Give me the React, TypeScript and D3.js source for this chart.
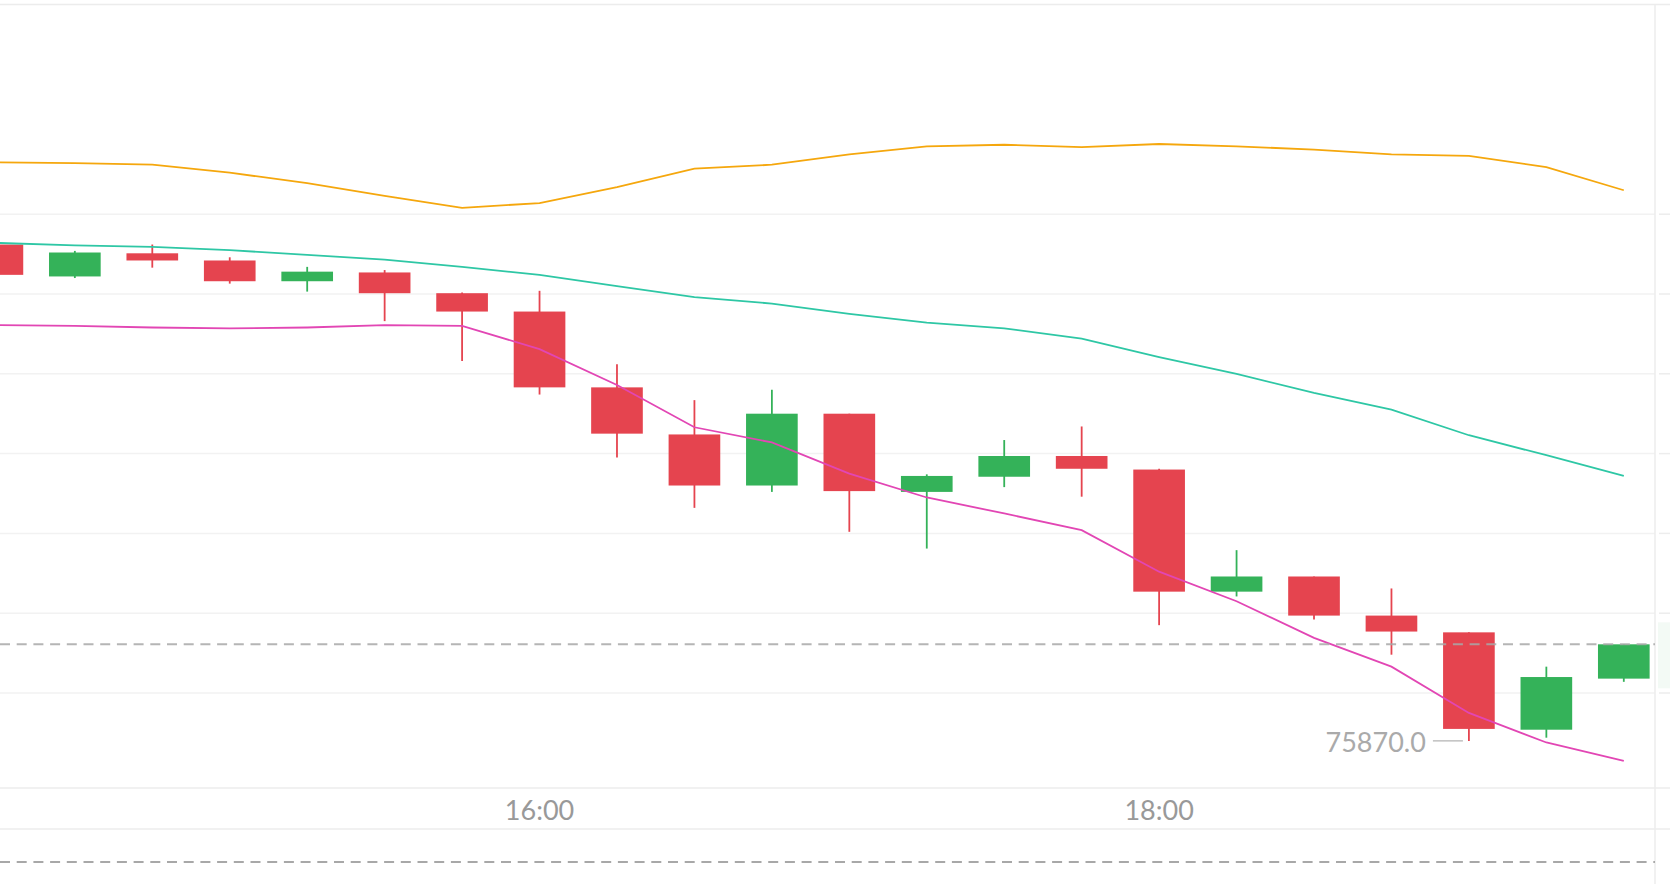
import React from "react";
import * as d3 from "d3";

const times = ["14:15","14:30","14:45","15:00","15:15","15:30","15:45","16:00","16:15","16:30","16:45","17:00","17:15","17:30","17:45","18:00","18:15","18:30","18:45","19:00","19:15","19:30"];
const opens = [76181, 76161, 76175.5, 76171, 76158, 76163.5, 76150.5, 76139, 76091.5, 76062, 76030, 76075, 76026, 76035.5, 76048.5, 76040, 75963.5, 75973, 75948.5, 75938, 75877, 75909];
const highs = [76181.5, 76177, 76181, 76173, 76167, 76165, 76151, 76152, 76106, 76083.5, 76090, 76075, 76037, 76058.5, 76067, 76040.5, 75989.5, 75973, 75965.5, 75938, 75916.5, 75930.5];
const lows = [76161, 76160, 76166.5, 76156.5, 76151.5, 76133, 76108, 76087, 76047.5, 76016, 76026, 76001, 75990.5, 76029, 76023, 75942.5, 75960.5, 75946, 75924, 75870, 75872, 75907];
const closes = [76162, 76176, 76171, 76158, 76164, 76150.5, 76139, 76091.5, 76062.5, 76030, 76075, 76026.5, 76036, 76048.5, 76040.5, 75963.5, 75973, 75948.5, 75938.5, 75877.5, 75910, 75930.5];
const upperBand = [76232.5, 76232, 76231, 76226, 76219.5, 76211.5, 76204, 76207, 76217, 76228.5, 76231, 76237.5, 76242.5, 76243.5, 76242, 76244, 76242.5, 76240.5, 76237.5, 76236.5, 76229.5, 76215];
const midBand = [76182, 76180.5, 76179.5, 76177.5, 76174.5, 76171.5, 76167, 76162, 76155, 76148, 76144, 76137.5, 76132, 76128.5, 76122, 76110.5, 76100, 76088, 76077.5, 76061.5, 76049, 76036];
const maLine = [76130.5, 76130, 76129, 76128.5, 76129, 76130.5, 76130, 76115.5, 76093, 76066.5, 76057, 76037.5, 76022.5, 76012.5, 76002, 75976, 75957.5, 75934.5, 75916.5, 75887.5, 75869, 75857.5];
const timeTicks = ["16:00", "18:00"];
const gridValues = [75900, 75950, 76000, 76050, 76100, 76150, 76200];

const W = 1670;
const H = 884;
const PLOT_R = 1655;
const PLOT_B = 788;

const RED = "#e5444f";
const GREEN = "#34b259";

export default function App() {
  const x = d3.scaleLinear().domain([0, times.length - 1]).range([-2.6, 1623.8]);
  const step = x(1) - x(0);
  const bw = step * 0.667;
  const y = d3.scaleLinear().domain([75900, 76200]).range([693, 693 - 6 * 79.8]);

  const lineGen = (vals: number[]) =>
    d3.line<number>().x((_, i) => x(i)).y((v) => y(v))(vals) || "";

  const lowVal = d3.min(lows) as number;
  const lowIdx = lows.indexOf(lowVal);
  const lastClose = closes[closes.length - 1];
  const font = "Lato, 'Open Sans', sans-serif";

  return (
    <svg width={W} height={H} style={{ position: "fixed", left: 0, top: 0, background: "#fff" }}>
      <defs>
        <clipPath id="plot">
          <rect x={0} y={4} width={PLOT_R} height={PLOT_B - 4} />
        </clipPath>
      </defs>
      <rect x={0} y={0} width={W} height={H} fill="#fff" />
      {/* top border */}
      <line x1={0} x2={W} y1={4.5} y2={4.5} stroke="#ececec" strokeWidth={1.5} />
      {/* gridlines */}
      {gridValues.map((g) => (
        <g key={g}>
          <line x1={0} x2={PLOT_R} y1={y(g)} y2={y(g)} stroke="#f2f2f2" strokeWidth={1.5} />
          <line x1={PLOT_R + 4} x2={W} y1={y(g)} y2={y(g)} stroke="#ededed" strokeWidth={1.5} />
        </g>
      ))}
      {/* faint last-price label bg on axis */}
      <rect x={PLOT_R + 3} y={y(lastClose) - 22} width={W - PLOT_R - 3} height={66} fill="#f3faf5" />
      {/* plot bottom, axis lines */}
      <line x1={0} x2={W} y1={PLOT_B} y2={PLOT_B} stroke="#ececec" strokeWidth={1.5} />
      <line x1={0} x2={W} y1={829} y2={829} stroke="#ececec" strokeWidth={1.5} />
      <line x1={PLOT_R} x2={PLOT_R} y1={4} y2={H} stroke="#ececec" strokeWidth={1.5} />

      <g clipPath="url(#plot)">
        {times.map((t, i) => {
          const up = closes[i] >= opens[i];
          const c = up ? GREEN : RED;
          const top = y(Math.max(opens[i], closes[i]));
          const bot = y(Math.min(opens[i], closes[i]));
          return (
            <g key={t}>
              <line x1={x(i)} x2={x(i)} y1={y(highs[i])} y2={y(lows[i])} stroke={c} strokeWidth={1.8} />
              <rect x={x(i) - bw / 2} y={top} width={bw} height={Math.max(1, bot - top)} fill={c} />
            </g>
          );
        })}
        <path d={lineGen(upperBand)} fill="none" stroke="#f5a70d" strokeWidth={1.8} />
        <path d={lineGen(midBand)} fill="none" stroke="#2ec7a5" strokeWidth={1.8} />
        <path d={lineGen(maLine)} fill="none" stroke="#e246b4" strokeWidth={1.8} />
        <line x1={0} x2={PLOT_R} y1={y(lastClose)} y2={y(lastClose)} stroke="#a8a8a8" strokeOpacity={0.85} strokeWidth={2} strokeDasharray="10 6.7" />
      </g>

      {/* low marker */}
      <line x1={x(lowIdx) - 36} x2={x(lowIdx) - 6} y1={y(lowVal)} y2={y(lowVal)} stroke="#b0b0b0" strokeWidth={1.2} />
      <text x={x(lowIdx) - 43} y={y(lowVal) + 11} textAnchor="end" fontFamily={font} fontSize={27} fill="#aaaaaa">
        {lowVal.toFixed(1)}
      </text>

      {/* time axis labels */}
      {timeTicks.map((t) => (
        <text key={t} x={x(times.indexOf(t))} y={820} textAnchor="middle" fontFamily={font} fontSize={27} fill="#999999">
          {t}
        </text>
      ))}

      {/* lower pane dashed line */}
      <line x1={0} x2={PLOT_R} y1={862} y2={862} stroke="#a8a8a8" strokeWidth={2} strokeDasharray="10 6.7" />
    </svg>
  );
}
